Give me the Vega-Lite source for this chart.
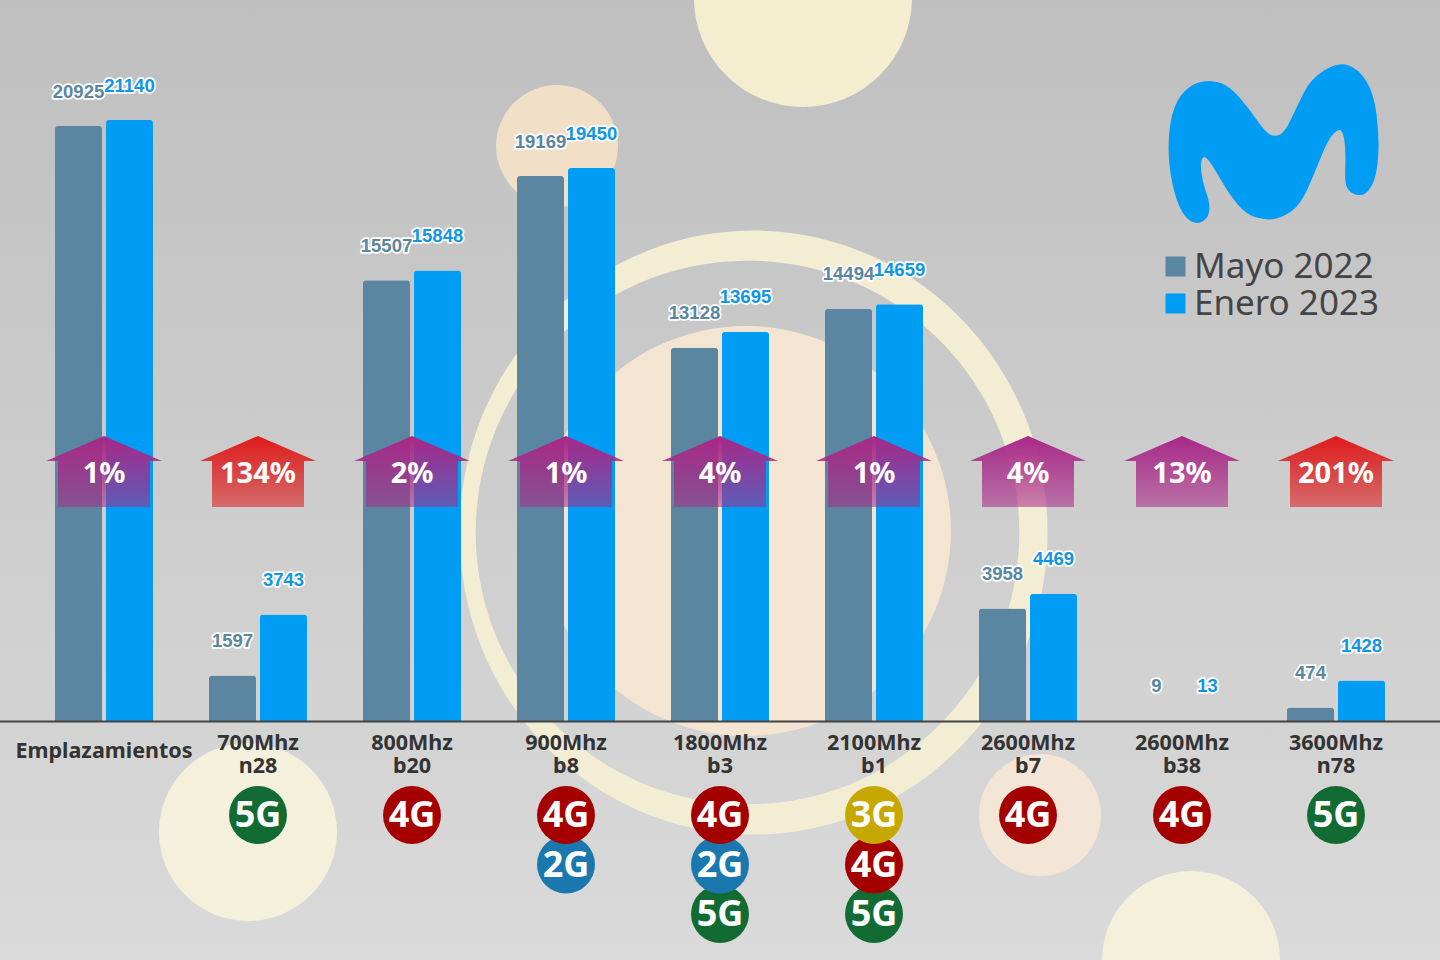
{"$schema":"https://vega.github.io/schema/vega-lite/v6.json","width":1440,"height":960,"padding":0,"autosize":{"type":"none"},"background":"#cccccc","config":{"view":{"stroke":null},"font":"Noto Sans"},
"datasets":{"emplazamientos":[{"banda":"Emplazamientos","serie":"Mayo 2022","valor":20925},{"banda":"Emplazamientos","serie":"Enero 2023","valor":21140},{"banda":"700Mhz n28","serie":"Mayo 2022","valor":1597},{"banda":"700Mhz n28","serie":"Enero 2023","valor":3743},{"banda":"800Mhz b20","serie":"Mayo 2022","valor":15507},{"banda":"800Mhz b20","serie":"Enero 2023","valor":15848},{"banda":"900Mhz b8","serie":"Mayo 2022","valor":19169},{"banda":"900Mhz b8","serie":"Enero 2023","valor":19450},{"banda":"1800Mhz b3","serie":"Mayo 2022","valor":13128},{"banda":"1800Mhz b3","serie":"Enero 2023","valor":13695},{"banda":"2100Mhz b1","serie":"Mayo 2022","valor":14494},{"banda":"2100Mhz b1","serie":"Enero 2023","valor":14659},{"banda":"2600Mhz b7","serie":"Mayo 2022","valor":3958},{"banda":"2600Mhz b7","serie":"Enero 2023","valor":4469},{"banda":"2600Mhz b38","serie":"Mayo 2022","valor":9},{"banda":"2600Mhz b38","serie":"Enero 2023","valor":13},{"banda":"3600Mhz n78","serie":"Mayo 2022","valor":474},{"banda":"3600Mhz n78","serie":"Enero 2023","valor":1428}],
"subidas":[{"banda":"Emplazamientos","porcentaje":1,"texto":"1%"},{"banda":"700Mhz n28","porcentaje":134,"texto":"134%"},{"banda":"800Mhz b20","porcentaje":2,"texto":"2%"},{"banda":"900Mhz b8","porcentaje":1,"texto":"1%"},{"banda":"1800Mhz b3","porcentaje":4,"texto":"4%"},{"banda":"2100Mhz b1","porcentaje":1,"texto":"1%"},{"banda":"2600Mhz b7","porcentaje":4,"texto":"4%"},{"banda":"2600Mhz b38","porcentaje":13,"texto":"13%"},{"banda":"3600Mhz n78","porcentaje":201,"texto":"201%"}],
"tecnologias":[{"banda":"900Mhz b8","tecnologia":"2G","orden":2},{"banda":"1800Mhz b3","tecnologia":"5G","orden":3},{"banda":"1800Mhz b3","tecnologia":"2G","orden":2},{"banda":"2100Mhz b1","tecnologia":"5G","orden":3},{"banda":"2100Mhz b1","tecnologia":"4G","orden":2},{"banda":"700Mhz n28","tecnologia":"5G","orden":1},{"banda":"800Mhz b20","tecnologia":"4G","orden":1},{"banda":"900Mhz b8","tecnologia":"4G","orden":1},{"banda":"1800Mhz b3","tecnologia":"4G","orden":1},{"banda":"2100Mhz b1","tecnologia":"3G","orden":1},{"banda":"2600Mhz b7","tecnologia":"4G","orden":1},{"banda":"2600Mhz b38","tecnologia":"4G","orden":1},{"banda":"3600Mhz n78","tecnologia":"5G","orden":1}]},
"resolve":{"scale":{"x":"independent","y":"independent","color":"independent"}},
"layer":[
{"data":{"values":[{"adorno":"fondo"}]},"mark":{"type":"rect","fill":{"gradient":"linear","x1":0,"y1":0,"x2":0,"y2":1,"stops":[{"offset":0,"color":"#bfbfbf"},{"offset":1,"color":"#dadada"}]}},"encoding":{}},
{"data":{"values":[{"adorno":"círculo"}]},"mark":{"type":"point","filled":true,"opacity":1,"strokeWidth":0,"fill":"#f4edcf","size":47524},"encoding":{"x":{"datum":55.76,"type":"quantitative","scale":{"domain":[0,100],"range":[0,1440]},"axis":null},"y":{"datum":-0.21,"type":"quantitative","scale":{"domain":[0,100],"range":[0,960]},"axis":null}}},
{"data":{"values":[{"adorno":"círculo"}]},"mark":{"type":"point","filled":true,"opacity":1,"strokeWidth":0,"fill":"#f1dfc8","size":14884},"encoding":{"x":{"datum":38.68,"type":"quantitative","scale":{"domain":[0,100],"range":[0,1440]},"axis":null},"y":{"datum":15.21,"type":"quantitative","scale":{"domain":[0,100],"range":[0,960]},"axis":null}}},
{"data":{"values":[{"adorno":"círculo"}]},"mark":{"type":"point","filled":true,"opacity":1,"strokeWidth":0,"fill":"#f4e5d3","size":168100},"encoding":{"x":{"datum":51.8,"type":"quantitative","scale":{"domain":[0,100],"range":[0,1440]},"axis":null},"y":{"datum":55.31,"type":"quantitative","scale":{"domain":[0,100],"range":[0,960]},"axis":null}}},
{"data":{"values":[{"adorno":"anillo"}]},"mark":{"type":"point","filled":true,"opacity":1,"strokeWidth":0,"fill":"#f3edd3","size":364816,"shape":"M-0.9735,0A0.9735,1,0,1,1,0.9735,0A0.9735,1,0,1,1,-0.9735,0Z M-0.92,0A0.9,0.9,0,1,0,0.88,0A0.9,0.9,0,1,0,-0.92,0Z"},"encoding":{"x":{"datum":52.33,"type":"quantitative","scale":{"domain":[0,100],"range":[0,1440]},"axis":null},"y":{"datum":55.47,"type":"quantitative","scale":{"domain":[0,100],"range":[0,960]},"axis":null}}},
{"data":{"values":[{"adorno":"círculo"}]},"mark":{"type":"point","filled":true,"opacity":1,"strokeWidth":0,"fill":"#f5f0dc","size":31684},"encoding":{"x":{"datum":17.22,"type":"quantitative","scale":{"domain":[0,100],"range":[0,1440]},"axis":null},"y":{"datum":86.67,"type":"quantitative","scale":{"domain":[0,100],"range":[0,960]},"axis":null}}},
{"data":{"values":[{"adorno":"círculo"}]},"mark":{"type":"point","filled":true,"opacity":1,"strokeWidth":0,"fill":"#f4e6d6","size":14884},"encoding":{"x":{"datum":72.22,"type":"quantitative","scale":{"domain":[0,100],"range":[0,1440]},"axis":null},"y":{"datum":84.9,"type":"quantitative","scale":{"domain":[0,100],"range":[0,960]},"axis":null}}},
{"data":{"values":[{"adorno":"círculo"}]},"mark":{"type":"point","filled":true,"opacity":1,"strokeWidth":0,"fill":"#f5f0dc","size":31684},"encoding":{"x":{"datum":82.71,"type":"quantitative","scale":{"domain":[0,100],"range":[0,1440]},"axis":null},"y":{"datum":100,"type":"quantitative","scale":{"domain":[0,100],"range":[0,960]},"axis":null}}},
{"data":{"name":"emplazamientos"},"mark":{"type":"bar","cornerRadiusTopLeft":3,"cornerRadiusTopRight":3},
"encoding":{"x":{"field":"banda","type":"nominal","sort":null,"scale":{"range":[27,1413],"paddingInner":0,"paddingOuter":0},
"axis":{"title":null,"orient":"bottom","offset":-239,"domain":false,"ticks":false,"labelAngle":0,"labelFont":"Noto Sans","labelFontWeight":"bold","labelFontSize":21.5,"labelColor":"#333333","labelPadding":11,"labelBaseline":"top","labelLineHeight":23,"labelAlign":"center","labelBound":false,"labelOverlap":false,"labelExpr":"datum.label=='Emplazamientos'?'':split(datum.label,' ')","zindex":1}},
"xOffset":{"field":"serie","type":"nominal","sort":["Mayo 2022","Enero 2023"],"scale":{"domain":["Mayo 2022","Enero 2023"],"paddingInner":0.078,"paddingOuter":0.549}},
"y":{"field":"valor","type":"quantitative","scale":{"domain":[-8407,25361],"range":[960,0],"nice":false,"zero":false},"axis":null},
"color":{"field":"serie","type":"nominal","scale":{"domain":["Mayo 2022","Enero 2023"],"range":["#5a86a1","#019df4"]},
"legend":{"title":null,"orient":"none","legendX":1158,"legendY":249,"symbolType":"square","symbolSize":400,"symbolStrokeWidth":0,"labelFont":"Noto Sans","labelFontSize":35,"labelColor":"#444444","labelOffset":1,"rowPadding":1,"labelLimit":300,"symbolOpacity":1}}}},
{"data":{"values":[{"adorno":"línea base"}]},"mark":{"type":"rule","color":"#444444","strokeWidth":2},"encoding":{"y":{"datum":-15,"type":"quantitative","scale":{"domain":[-8407,25361],"range":[960,0],"nice":false,"zero":false},"axis":null}}},
{"data":{"values":[{"banda":"Emplazamientos"}]},"mark":{"type":"text","font":"Noto Sans","fontWeight":"bold","fontSize":21.5,"color":"#333333","baseline":"middle"},
"encoding":{"x":{"field":"banda","type":"nominal","sort":null,"scale":{"domain":["Emplazamientos","700Mhz n28","800Mhz b20","900Mhz b8","1800Mhz b3","2100Mhz b1","2600Mhz b7","2600Mhz b38","3600Mhz n78"],"range":[27,1413],"paddingInner":0,"paddingOuter":0},"axis":null},"y":{"datum":-1090,"type":"quantitative","scale":{"domain":[-8407,25361],"range":[960,0],"nice":false,"zero":false},"axis":null},"text":{"field":"banda"}}},
{"data":{"name":"emplazamientos"},"mark":{"type":"text","font":"Liberation Sans","fontWeight":"bold","fontSize":18.5,"dy":-34.5,"stroke":"#ffffff","strokeWidth":3.5,"strokeJoin":"round","baseline":"middle"},
"encoding":{"x":{"field":"banda","type":"nominal","sort":null,"scale":{"range":[27,1413],"paddingInner":0,"paddingOuter":0},"axis":null},
"xOffset":{"field":"serie","type":"nominal","scale":{"domain":["Mayo 2022","Enero 2023"],"paddingInner":0.078,"paddingOuter":0.549}},
"y":{"field":"valor","type":"quantitative","scale":{"domain":[-8407,25361],"range":[960,0],"nice":false,"zero":false},"axis":null},
"text":{"field":"valor","type":"quantitative","format":"d"}}},
{"data":{"name":"emplazamientos"},"mark":{"type":"text","font":"Liberation Sans","fontWeight":"bold","fontSize":18.5,"dy":-34.5,"baseline":"middle"},
"encoding":{"x":{"field":"banda","type":"nominal","sort":null,"scale":{"range":[27,1413],"paddingInner":0,"paddingOuter":0},"axis":null},
"xOffset":{"field":"serie","type":"nominal","scale":{"domain":["Mayo 2022","Enero 2023"],"paddingInner":0.078,"paddingOuter":0.549}},
"y":{"field":"valor","type":"quantitative","scale":{"domain":[-8407,25361],"range":[960,0],"nice":false,"zero":false},"axis":null},
"color":{"field":"serie","type":"nominal","scale":{"domain":["Mayo 2022","Enero 2023"],"range":["#5a86a1","#0f96e6"]},"legend":null},
"text":{"field":"valor","type":"quantitative","format":"d"}}},
{"data":{"name":"subidas"},"transform":[{"filter":"datum.porcentaje<100"}],"mark":{"type":"point","filled":true,"opacity":1,"strokeWidth":0,"size":13456,"shape":"M0,-0.612L1,-0.181L0.793,-0.181L0.793,0.612L-0.793,0.612L-0.793,-0.181L-1,-0.181Z","fill":{"gradient":"linear","x1":0,"y1":0,"x2":0,"y2":1,"stops":[{"offset":0,"color":"rgba(168,40,135,1)"},{"offset":1,"color":"rgba(168,40,135,0.55)"}]}},
"encoding":{"x":{"field":"banda","type":"nominal","sort":null,"scale":{"domain":["Emplazamientos","700Mhz n28","800Mhz b20","900Mhz b8","1800Mhz b3","2100Mhz b1","2600Mhz b7","2600Mhz b38","3600Mhz n78"],"range":[27,1413],"paddingInner":0,"paddingOuter":0},"axis":null},"y":{"datum":8776,"type":"quantitative","scale":{"domain":[-8407,25361],"range":[960,0],"nice":false,"zero":false},"axis":null}}},
{"data":{"name":"subidas"},"transform":[{"filter":"datum.porcentaje>=100"}],"mark":{"type":"point","filled":true,"opacity":1,"strokeWidth":0,"size":13456,"shape":"M0,-0.612L1,-0.181L0.793,-0.181L0.793,0.612L-0.793,0.612L-0.793,-0.181L-1,-0.181Z","fill":{"gradient":"linear","x1":0,"y1":0,"x2":0,"y2":1,"stops":[{"offset":0,"color":"rgba(222,26,26,1)"},{"offset":1,"color":"rgba(218,40,40,0.6)"}]}},
"encoding":{"x":{"field":"banda","type":"nominal","sort":null,"scale":{"domain":["Emplazamientos","700Mhz n28","800Mhz b20","900Mhz b8","1800Mhz b3","2100Mhz b1","2600Mhz b7","2600Mhz b38","3600Mhz n78"],"range":[27,1413],"paddingInner":0,"paddingOuter":0},"axis":null},"y":{"datum":8776,"type":"quantitative","scale":{"domain":[-8407,25361],"range":[960,0],"nice":false,"zero":false},"axis":null}}},
{"data":{"name":"subidas"},"mark":{"type":"text","font":"Noto Sans","fontWeight":"bold","fontSize":29,"color":"#ffffff","baseline":"middle"},
"encoding":{"x":{"field":"banda","type":"nominal","sort":null,"scale":{"domain":["Emplazamientos","700Mhz n28","800Mhz b20","900Mhz b8","1800Mhz b3","2100Mhz b1","2600Mhz b7","2600Mhz b38","3600Mhz n78"],"range":[27,1413],"paddingInner":0,"paddingOuter":0},"axis":null},"y":{"datum":8690,"type":"quantitative","scale":{"domain":[-8407,25361],"range":[960,0],"nice":false,"zero":false},"axis":null},"text":{"field":"texto"}}},
{"data":{"name":"tecnologias"},"mark":{"type":"point","filled":true,"opacity":1,"strokeWidth":0,"size":3364,"shape":"circle"},
"encoding":{"x":{"field":"banda","type":"nominal","sort":null,"scale":{"domain":["Emplazamientos","700Mhz n28","800Mhz b20","900Mhz b8","1800Mhz b3","2100Mhz b1","2600Mhz b7","2600Mhz b38","3600Mhz n78"],"range":[27,1413],"paddingInner":0,"paddingOuter":0},"axis":null},
"y":{"field":"orden","type":"ordinal","scale":{"type":"point","domain":[1,2,3],"range":[815,914],"padding":0},"axis":null},
"color":{"field":"tecnologia","type":"nominal","scale":{"domain":["2G","3G","4G","5G"],"range":["#1a78ae","#c7a800","#a50000","#136b34"]},"legend":null}}},
{"data":{"name":"tecnologias"},"mark":{"type":"text","font":"Noto Sans","fontWeight":"bold","fontSize":36,"color":"#ffffff","baseline":"middle","dy":1},
"encoding":{"x":{"field":"banda","type":"nominal","sort":null,"scale":{"domain":["Emplazamientos","700Mhz n28","800Mhz b20","900Mhz b8","1800Mhz b3","2100Mhz b1","2600Mhz b7","2600Mhz b38","3600Mhz n78"],"range":[27,1413],"paddingInner":0,"paddingOuter":0},"axis":null},
"y":{"field":"orden","type":"ordinal","scale":{"type":"point","domain":[1,2,3],"range":[815,914],"padding":0},"axis":null},"text":{"field":"tecnologia"}}},
{"data":{"values":[{"adorno":"logotipo"}]},"mark":{"type":"point","filled":true,"opacity":1,"strokeWidth":0,"fill":"#019df4","size":44944,"shape":"M-0.662,0.729Q-0.721,0.772,-0.793,0.721Q-0.865,0.670,-0.913,0.525Q-0.962,0.381,-0.981,0.189Q-1.000,-0.003,-0.973,-0.18Q-0.946,-0.356,-0.874,-0.452Q-0.801,-0.548,-0.705,-0.577Q-0.609,-0.606,-0.513,-0.577Q-0.417,-0.548,-0.32,-0.436Q-0.224,-0.324,-0.152,-0.22Q-0.080,-0.115,-0.032,-0.088Q0.016,-0.061,0.064,-0.088Q0.112,-0.115,0.168,-0.236Q0.224,-0.356,0.288,-0.484Q0.353,-0.612,0.481,-0.692Q0.609,-0.772,0.705,-0.74Q0.801,-0.708,0.873,-0.596Q0.946,-0.484,0.973,-0.276Q1.000,-0.067,0.989,0.109Q0.978,0.285,0.938,0.374Q0.897,0.462,0.849,0.478Q0.801,0.494,0.753,0.47Q0.705,0.446,0.689,0.398Q0.673,0.349,0.678,0.205Q0.683,0.061,0.67,-0.027Q0.657,-0.115,0.633,-0.127Q0.609,-0.138,0.561,-0.087Q0.513,-0.035,0.449,0.125Q0.385,0.285,0.321,0.43Q0.256,0.574,0.176,0.633Q0.096,0.692,0.016,0.708Q-0.064,0.724,-0.16,0.697Q-0.256,0.670,-0.337,0.574Q-0.417,0.478,-0.481,0.366Q-0.545,0.253,-0.593,0.181Q-0.641,0.109,-0.665,0.133Q-0.689,0.157,-0.681,0.253Q-0.673,0.349,-0.638,0.446Q-0.603,0.542,-0.603,0.614Q-0.603,0.686,-0.662,0.729Z"},"encoding":{"x":{"datum":88.43,"type":"quantitative","scale":{"domain":[0,100],"range":[0,1440]},"axis":null},"y":{"datum":14.97,"type":"quantitative","scale":{"domain":[0,100],"range":[0,960]},"axis":null}}}
]}
